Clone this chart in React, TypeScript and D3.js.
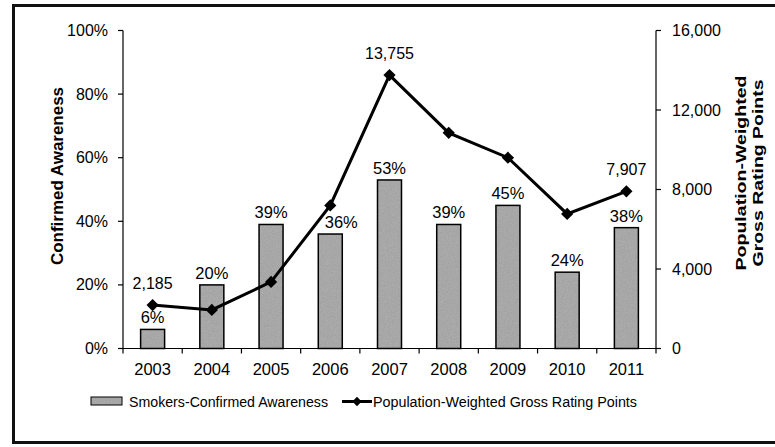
import { useEffect, useRef } from "react";
import * as d3 from "d3";

const years = ["2003", "2004", "2005", "2006", "2007", "2008", "2009", "2010", "2011"];
const awareness = [0.06, 0.2, 0.39, 0.36, 0.53, 0.39, 0.45, 0.24, 0.38];
const grp = [2185, 1940, 3350, 7200, 13755, 10850, 9600, 6770, 7907];
const grpLabelled = ["2003", "2007", "2011"];
const leftTicks = [0, 0.2, 0.4, 0.6, 0.8, 1];
const rightTicks = [0, 4000, 8000, 12000, 16000];

const W = 775;
const H = 447;
const FONT = "'Liberation Sans', Arial, sans-serif";
const BAR_FILL = "#b4b4b4";

const App = () => {
  const ref = useRef<SVGSVGElement>(null);

  useEffect(() => {
    if (!ref.current) return;
    const svg = d3.select(ref.current);
    svg.selectAll("*").remove();

    const left = 123;
    const right = 656;
    const top = 30.5;
    const bottom = 348.5;

    const x = d3.scaleBand<string>().domain(years).range([left, right]);
    const yL = d3.scaleLinear().domain([0, 1]).range([bottom, top]);
    const yR = d3.scaleLinear().domain([0, 16000]).range([bottom, top]);
    const cx = (yr: string) => x(yr)! + x.bandwidth() / 2;

    // grainy texture for the bars, like the scanned original
    const defs = svg.append("defs");
    const flt = defs.append("filter").attr("id", "grain").attr("x", 0).attr("y", 0).attr("width", 1).attr("height", 1);
    flt
      .append("feTurbulence")
      .attr("type", "fractalNoise")
      .attr("baseFrequency", 1.2)
      .attr("numOctaves", 1)
      .attr("result", "noise");
    flt
      .append("feColorMatrix")
      .attr("in", "noise")
      .attr("type", "matrix")
      .attr("values", "0 0 0 0 0  0 0 0 0 0  0 0 0 0 0  0 0 0 0.3 0")
      .attr("result", "dots");
    flt.append("feComposite").attr("in", "dots").attr("in2", "SourceGraphic").attr("operator", "atop");

    // outer frame
    svg
      .append("rect")
      .attr("x", 13.5)
      .attr("y", 5.5)
      .attr("width", 780)
      .attr("height", 437)
      .attr("fill", "none")
      .attr("stroke", "#111")
      .attr("stroke-width", 3);

    // bars
    const barW = 24;
    const bars = svg.append("g");
    bars
      .selectAll("rect.fill")
      .data(awareness)
      .enter()
      .append("rect")
      .attr("class", "fill")
      .attr("x", (_d, i) => cx(years[i]) - barW / 2)
      .attr("y", (d) => yL(d))
      .attr("width", barW)
      .attr("height", (d) => bottom - yL(d))
      .attr("fill", BAR_FILL)
      .attr("filter", "url(#grain)");
    bars
      .selectAll("rect.edge")
      .data(awareness)
      .enter()
      .append("rect")
      .attr("class", "edge")
      .attr("x", (_d, i) => cx(years[i]) - barW / 2)
      .attr("y", (d) => yL(d))
      .attr("width", barW)
      .attr("height", (d) => bottom - yL(d))
      .attr("fill", "none")
      .attr("stroke", "#000")
      .attr("stroke-width", 1.5);

    // the 2006 label sits a little to the right, clear of the line
    svg
      .append("g")
      .selectAll("text")
      .data(awareness)
      .enter()
      .append("text")
      .attr("x", (_d, i) => cx(years[i]) + (years[i] === "2006" ? 11 : 0))
      .attr("y", (d) => yL(d) - 6)
      .attr("text-anchor", "middle")
      .attr("font-family", FONT)
      .attr("font-size", 16.5)
      .text((d) => `${Math.round(d * 100)}%`);

    // axes
    const axisG = svg.append("g").attr("stroke", "#000").attr("stroke-width", 1.2);
    axisG.append("line").attr("x1", left).attr("x2", left).attr("y1", top).attr("y2", bottom);
    axisG.append("line").attr("x1", right).attr("x2", right).attr("y1", top).attr("y2", bottom);
    axisG.append("line").attr("x1", left).attr("x2", right).attr("y1", bottom).attr("y2", bottom);

    leftTicks.forEach((t) => {
      axisG.append("line").attr("x1", left - 5).attr("x2", left).attr("y1", yL(t)).attr("y2", yL(t));
    });
    rightTicks.forEach((t) => {
      axisG.append("line").attr("x1", right).attr("x2", right + 5).attr("y1", yR(t)).attr("y2", yR(t));
    });
    years.forEach((yr) => {
      const bx = x(yr)!;
      axisG.append("line").attr("x1", bx).attr("x2", bx).attr("y1", bottom).attr("y2", bottom + 5);
    });
    axisG.append("line").attr("x1", right).attr("x2", right).attr("y1", bottom).attr("y2", bottom + 5);

    svg
      .append("g")
      .selectAll("text")
      .data(leftTicks)
      .enter()
      .append("text")
      .attr("x", 108)
      .attr("y", (d) => yL(d) + 5.5)
      .attr("text-anchor", "end")
      .attr("font-family", FONT)
      .attr("font-size", 16)
      .text((d) => `${Math.round(d * 100)}%`);

    svg
      .append("g")
      .selectAll("text")
      .data(rightTicks)
      .enter()
      .append("text")
      .attr("x", 672)
      .attr("y", (d) => yR(d) + 5.5)
      .attr("font-family", FONT)
      .attr("font-size", 16)
      .text((d) => d3.format(",")(d));

    svg
      .append("g")
      .selectAll("text")
      .data(years)
      .enter()
      .append("text")
      .attr("x", (d) => cx(d))
      .attr("y", 375)
      .attr("text-anchor", "middle")
      .attr("font-family", FONT)
      .attr("font-size", 16.5)
      .text((d) => d);

    // axis titles
    svg
      .append("text")
      .attr("transform", `translate(63, 176) rotate(-90)`)
      .attr("text-anchor", "middle")
      .attr("font-family", FONT)
      .attr("font-size", 16)
      .attr("font-weight", "bold")
      .attr("textLength", 178)
      .attr("lengthAdjust", "spacingAndGlyphs")
      .text("Confirmed Awareness");

    svg
      .append("text")
      .attr("transform", `translate(746, 173) rotate(-90)`)
      .attr("text-anchor", "middle")
      .attr("font-family", FONT)
      .attr("font-size", 15)
      .attr("font-weight", "bold")
      .attr("textLength", 195)
      .attr("lengthAdjust", "spacingAndGlyphs")
      .text("Population-Weighted");
    svg
      .append("text")
      .attr("transform", `translate(763, 173) rotate(-90)`)
      .attr("text-anchor", "middle")
      .attr("font-family", FONT)
      .attr("font-size", 15)
      .attr("font-weight", "bold")
      .attr("textLength", 187)
      .attr("lengthAdjust", "spacingAndGlyphs")
      .text("Gross Rating Points");

    // line
    const line = d3
      .line<number>()
      .x((_d, i) => cx(years[i]))
      .y((d) => yR(d));

    svg
      .append("path")
      .datum(grp)
      .attr("d", line)
      .attr("fill", "none")
      .attr("stroke", "#000")
      .attr("stroke-width", 3);

    const diamond = d3.symbol().type(d3.symbolDiamond2).size(95);
    svg
      .append("g")
      .selectAll("path")
      .data(grp)
      .enter()
      .append("path")
      .attr("d", diamond)
      .attr("transform", (d, i) => `translate(${cx(years[i])}, ${yR(d)})`)
      .attr("fill", "#000");

    svg
      .append("g")
      .selectAll("text")
      .data(grp.map((v, i) => ({ v, yr: years[i] })).filter((d) => grpLabelled.includes(d.yr)))
      .enter()
      .append("text")
      .attr("x", (d) => cx(d.yr))
      .attr("y", (d) => yR(d.v) - 16)
      .attr("text-anchor", "middle")
      .attr("font-family", FONT)
      .attr("font-size", 16)
      .text((d) => d3.format(",")(d.v));

    // legend
    const lg = svg.append("g");
    lg.append("rect")
      .attr("x", 91)
      .attr("y", 397)
      .attr("width", 31)
      .attr("height", 8)
      .attr("fill", BAR_FILL)
      .attr("filter", "url(#grain)");
    lg.append("rect")
      .attr("x", 91)
      .attr("y", 397)
      .attr("width", 31)
      .attr("height", 8)
      .attr("fill", "none")
      .attr("stroke", "#000")
      .attr("stroke-width", 1);
    lg.append("text")
      .attr("x", 129)
      .attr("y", 407)
      .attr("font-family", FONT)
      .attr("font-size", 15.5)
      .attr("textLength", 199)
      .attr("lengthAdjust", "spacingAndGlyphs")
      .text("Smokers-Confirmed Awareness");
    lg.append("line")
      .attr("x1", 342)
      .attr("x2", 372)
      .attr("y1", 401.5)
      .attr("y2", 401.5)
      .attr("stroke", "#000")
      .attr("stroke-width", 3);
    lg.append("path")
      .attr("d", d3.symbol().type(d3.symbolDiamond2).size(55))
      .attr("transform", "translate(357, 401.5)")
      .attr("fill", "#000");
    lg.append("text")
      .attr("x", 373)
      .attr("y", 407)
      .attr("font-family", FONT)
      .attr("font-size", 15.5)
      .attr("textLength", 264)
      .attr("lengthAdjust", "spacingAndGlyphs")
      .text("Population-Weighted Gross Rating Points");
  }, []);

  return (
    <svg
      ref={ref}
      width={W}
      height={H}
      style={{ position: "absolute", left: 0, top: 0, background: "#fff" }}
    ></svg>
  );
};

export default App;
